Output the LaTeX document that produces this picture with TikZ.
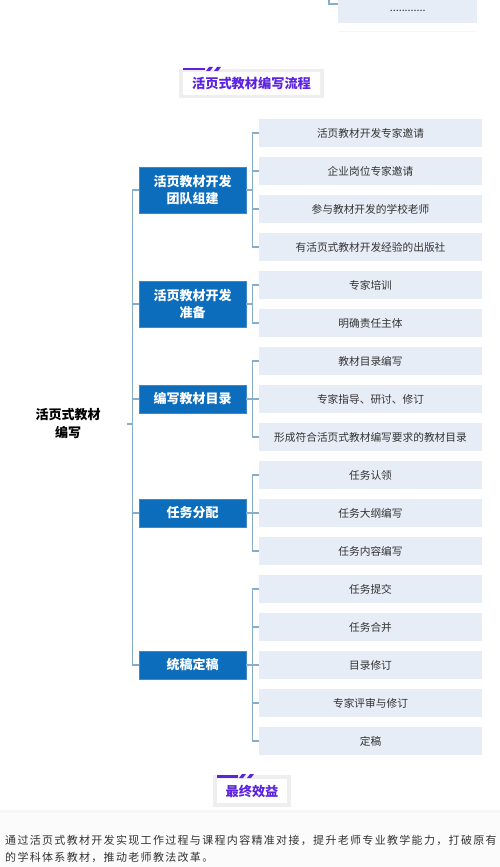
\documentclass[tikz,border=0pt]{standalone}
\usepackage{fontspec}
\setmainfont{Noto Sans CJK SC}
\newfontfamily\paraf[LetterSpace=12]{Noto Sans CJK SC}
\definecolor{connc}{HTML}{86AECB}
\definecolor{catc}{HTML}{0C6DBD}
\definecolor{catb}{HTML}{3D8AC9}
\definecolor{childc}{HTML}{E7EDF7}
\definecolor{textc}{HTML}{333333}
\definecolor{purp}{HTML}{5B22E0}
\definecolor{tframe}{HTML}{EEEEEE}
\definecolor{bandc}{HTML}{FBFBFB}
\begin{document}
\begin{tikzpicture}[x=1pt,y=-1pt,
  conn/.style={draw=connc,line width=1.1pt},
  child/.style={fill=childc,minimum width=223pt,minimum height=28pt,inner sep=0pt,text=textc,font=\fontsize{10.7}{12}\selectfont},
  cat/.style={fill=catc,draw=catb,line width=0.6pt,minimum width=107pt,minimum height=28pt,inner sep=0pt,text=white,align=center,font=\bfseries\fontsize{13}{16.5}\selectfont},
  titlebox/.style={fill=white,draw=tframe,line width=3.5pt,inner sep=0pt,text=purp,font=\bfseries\fontsize{13.2}{15}\selectfont},
  deco/.style={fill=purp,draw=none}
]
\useasboundingbox (0,0) rectangle (500,867);

% bottom band
\fill[bandc] (0,812) rectangle (500,867);
\fill[gray!6] (0,810) rectangle (500,813);

% top partial box
\node[child,minimum width=139pt,minimum height=23pt,anchor=north west] (top) at (338,0) {\raisebox{0.3ex}{............}};
\coordinate (topc) at (329,0);
\draw[conn] (topc) -- (329,4) -- (338,4);
\draw[gray!7,line width=0.8pt] (338,31) -- (475,31);

% title 1
\node[titlebox,minimum width=141pt,minimum height=26pt] (t1) at (251.5,83.5) {活页式教材编写流程};
\fill[deco] (183,68) rectangle (205,70.5);
\fill[deco] (206,71) -- (209,67) -- (213,67) -- (210,71) -- cycle;
\fill[deco] (214,71) -- (217,67) -- (221,67) -- (218,71) -- cycle;

% root
\node[minimum width=118pt,inner sep=0pt,align=center,font=\bfseries\fontsize{13}{18}\selectfont,text=black] (r) at (68,424) {活页式教材\\编写};

% categories
\node[cat,minimum height=46pt] (b1) at (192.5,190) {活页教材开发\\团队组建};
\node[cat,minimum height=46pt] (b2) at (192.5,304) {活页教材开发\\准备};
\node[cat] (b3) at (192.5,399) {编写教材目录};
\node[cat] (b4) at (192.5,513) {任务分配};
\node[cat] (b5) at (192.5,665) {统稿定稿};

% children
\foreach \i/\t in {1/活页教材开发专家邀请,2/企业岗位专家邀请,3/参与教材开发的学校老师,4/有活页式教材开发经验的出版社,
  5/专家培训,6/明确责任主体,
  7/教材目录编写,8/专家指导、研讨、修订,9/形成符合活页式教材编写要求的教材目录,
  10/任务认领,11/任务大纲编写,12/任务内容编写,
  13/任务提交,14/任务合并,15/目录修订,16/专家评审与修订,17/定稿}
  \node[child] (c\i) at (370.5,{133+38*(\i-1)}) {\t};

% trunk
\draw[conn] (r.east) -- ++(6,0);
\draw[conn] (b1.west) -- ++(-6,0) |- (b5.west);
\foreach \b in {b2,b3,b4} \draw[conn] (\b.west) -- ++(-6,0);

% brackets
\foreach \b/\f/\l/\m in {b1/1/4/{2,3},b2/5/6/{},b3/7/9/{8},b4/10/12/{11},b5/13/17/{14,15,16}}{
  \draw[conn] (\b.east) -- ++(7,0);
  \draw[conn] (c\f.west) -- ++(-6,0) |- (c\l.west);
  \foreach \k in \m \draw[conn] (c\k.west) -- ++(-6,0);
}

% title 2
\node[titlebox,minimum width=74pt,minimum height=28pt] (t2) at (252,791) {最终效益};
\fill[deco] (217,775) rectangle (238,777.5);
\fill[deco] (239,778) -- (242,774) -- (246,774) -- (243,778) -- cycle;
\fill[deco] (247,778) -- (250,774) -- (254,774) -- (251,778) -- cycle;

% paragraph
\node[anchor=west,inner sep=0pt,text=textc,font=\paraf\fontsize{11}{13}\selectfont] (p1) at (5,840) {通过活页式教材开发实现工作过程与课程内容精准对接，提升老师专业教学能力，打破原有};
\node[anchor=west,inner sep=0pt,text=textc,font=\paraf\fontsize{11}{13}\selectfont] (p2) at (5,857) {的学科体系教材，推动老师教法改革。};
\end{tikzpicture}
\end{document}
